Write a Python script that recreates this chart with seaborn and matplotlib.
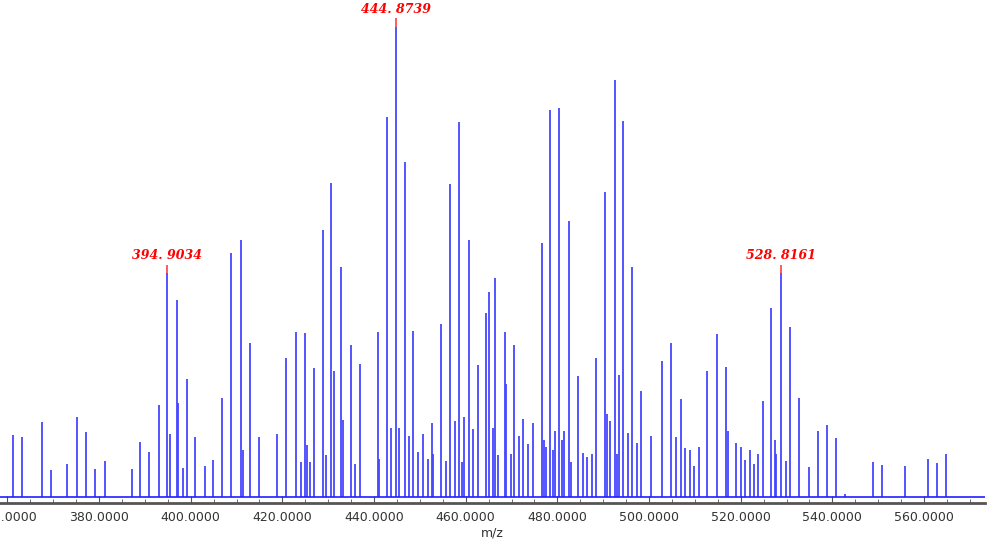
import matplotlib
matplotlib.use("Agg")
import matplotlib.pyplot as plt
from matplotlib.ticker import MultipleLocator, FormatStrFormatter
import seaborn as sns
import pandas as pd

# stick spectrum: m/z and relative intensity (%)
mz = [361.2, 363.3, 367.5, 369.5, 373.1, 375.1, 377.2, 379.2, 381.3, 387.2,
      389.0, 391.0, 393.0, 394.9034, 395.5, 397.0, 397.3, 398.4, 399.1, 400.9,
      403.1, 404.9, 406.9, 408.9, 410.9, 411.5, 413.0, 415.0, 418.9, 420.9,
      422.9, 424.0, 424.9, 425.3, 426.0, 426.9, 428.9, 429.6, 430.7, 431.2,
      432.8, 433.2, 434.9, 435.9, 437.0, 440.8, 441.1, 442.8, 443.6, 444.8739,
      445.4, 446.8, 447.7, 448.6, 449.7, 450.7, 451.7, 452.6, 452.9, 454.6,
      455.8, 456.6, 457.6, 458.6, 459.1, 459.6, 460.7, 461.5, 462.7, 464.4,
      465.0, 466.0, 466.5, 467.0, 468.5, 468.8, 469.9, 470.6, 471.7, 472.5,
      473.6, 474.6, 476.6, 477.1, 477.6, 478.4, 479.0, 479.5, 480.4, 481.0,
      481.5, 482.5, 483.0, 484.5, 485.6, 486.4, 487.6, 488.5, 490.5, 490.9,
      491.5, 492.5, 493.0, 493.5, 494.4, 495.4, 496.3, 497.3, 498.3, 500.4,
      502.9, 504.9, 505.8, 507.0, 507.8, 509.0, 509.8, 510.8, 512.7, 514.8,
      516.8, 517.2, 518.9, 520.0, 520.9, 522.0, 522.9, 523.7, 524.8, 526.6,
      527.4, 527.7, 528.8161, 529.9, 530.7, 532.7, 534.8, 536.8, 538.8, 540.8,
      542.8, 548.8, 550.9, 555.8, 560.9, 562.9, 564.9]
intensity = [13.2, 12.7, 16.0, 5.7, 7.0, 17.0, 13.8, 5.9, 7.7, 6.0,
             11.6, 9.6, 19.6, 47.6, 13.3, 41.9, 20.0, 6.2, 25.0, 12.8,
             6.6, 7.9, 21.1, 51.8, 54.7, 9.9, 32.7, 12.7, 13.4, 29.5,
             35.1, 7.3, 34.8, 11.0, 7.5, 27.4, 56.7, 8.8, 66.8, 26.7,
             48.8, 16.4, 32.3, 7.0, 28.3, 35.0, 8.0, 80.7, 14.6, 100.0,
             14.7, 71.3, 13.0, 35.3, 9.6, 13.3, 8.0, 15.7, 9.0, 36.8,
             7.7, 66.6, 16.2, 79.7, 7.5, 17.0, 54.7, 14.4, 28.1, 39.0,
             43.6, 14.7, 46.6, 8.8, 35.0, 24.0, 9.0, 32.3, 12.9, 16.5,
             11.2, 15.7, 54.0, 12.0, 10.5, 82.3, 10.0, 14.0, 82.8, 12.0,
             14.0, 58.6, 7.5, 25.6, 9.4, 8.5, 9.0, 29.6, 64.8, 17.7,
             16.2, 88.7, 9.0, 25.9, 80.0, 13.5, 48.8, 11.5, 22.5, 13.0,
             28.9, 32.8, 12.8, 20.8, 10.4, 9.9, 6.6, 10.6, 26.7, 34.6,
             27.7, 14.0, 11.5, 10.6, 7.8, 9.9, 6.9, 9.1, 20.3, 40.1,
             12.0, 9.0, 47.6, 7.6, 36.2, 21.0, 6.4, 14.0, 15.3, 12.4,
             0.6, 7.4, 6.7, 6.6, 8.1, 7.1, 9.1]
labelled = [394.9034, 444.8739, 528.8161]

spec = pd.DataFrame({"mz": mz, "intensity": intensity})

sns.set_style("white")
fig = plt.figure(figsize=(10, 5.39), dpi=100)
ax = fig.add_axes([0.0, 0.067, 0.985, 0.933])

ax.vlines(spec["mz"], 0, spec["intensity"], color="#4646ff", linewidth=1.3)
ax.axhline(0, color="#2020ff", linewidth=1.2)

for m in labelled:
    h = spec.loc[spec["mz"] == m, "intensity"].iloc[0]
    ax.vlines(m, h, h + 1.8, color="#ff4040", linewidth=1.2)
    ax.text(m, h + 2.3, f"{m:.4f}".replace(".", ". "), color="red",
            ha="center", va="bottom", fontsize=9, style="italic",
            fontweight="bold", family="DejaVu Serif")

ax.set_xlim(358.4, 573.3)
ax.set_ylim(-1.3, 105.7)
ax.xaxis.set_major_locator(MultipleLocator(20))
ax.xaxis.set_minor_locator(MultipleLocator(5))
ax.xaxis.set_major_formatter(FormatStrFormatter("%.4f"))
ax.tick_params(axis="x", which="both", direction="in", bottom=True,
               labelsize=9, labelcolor="#333333", color="#555555", pad=6)
ax.tick_params(axis="x", which="major", length=5)
ax.tick_params(axis="x", which="minor", length=3)
ax.set_yticks([])
for s in ["top", "left", "right"]:
    ax.spines[s].set_visible(False)
ax.spines["bottom"].set_color("#555555")
ax.spines["bottom"].set_linewidth(2)
ax.set_xlabel("m/z", fontsize=9, color="#333333", labelpad=2)

fig.savefig("out.png", dpi=100)
